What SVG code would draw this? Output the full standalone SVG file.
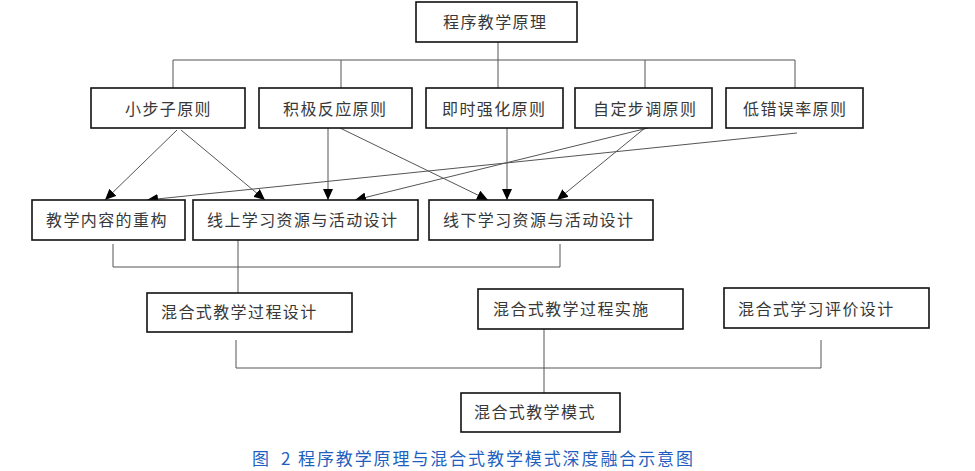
<svg xmlns="http://www.w3.org/2000/svg" width="975" height="471" viewBox="0 0 975 471">
<defs>
<style>
.box{fill:#fff;stroke:#111;stroke-width:1.6}
.t{font-family:"Noto Sans CJK SC","Noto Sans CJK JP",sans-serif;font-size:16px;letter-spacing:1.4px;fill:#383838}
.c{fill:none;stroke:#555;stroke-width:1}
.cap{font-family:"Noto Sans CJK SC",sans-serif;font-size:17px;fill:#1f5fbf}
</style>
<marker id="arr" markerUnits="userSpaceOnUse" markerWidth="12" markerHeight="10" refX="11" refY="5" orient="auto">
<path d="M0,0 L11,5 L0,10 Z" fill="#000"/>
</marker>
</defs>
<g id="connectors">
<path class="c" d="M498,42 V89"/>
<path class="c" d="M173,88 V60 H795 V88 M341,60 V88 M645,60 V88"/>
<line class="c" x1="177" y1="130" x2="105" y2="200" marker-end="url(#arr)"/>
<line class="c" x1="181" y1="130" x2="265" y2="200" marker-end="url(#arr)"/>
<line class="c" x1="328" y1="128" x2="328" y2="200" marker-end="url(#arr)"/>
<line class="c" x1="340" y1="128" x2="488" y2="200" marker-end="url(#arr)"/>
<line class="c" x1="507" y1="128" x2="507" y2="200" marker-end="url(#arr)"/>
<line class="c" x1="648" y1="128" x2="355" y2="200" marker-end="url(#arr)"/>
<line class="c" x1="645" y1="128" x2="557" y2="200" marker-end="url(#arr)"/>
<line class="c" x1="797" y1="133" x2="147" y2="200" marker-end="url(#arr)"/>
<path class="c" d="M113,244 V267 H560 V244"/>
<path class="c" d="M238,240 V293"/>
<path class="c" d="M236,340 V368 H821 V340"/>
<path class="c" d="M544,329 V393"/>
</g>
<g id="n0"><rect class="box" x="416" y="2" width="161" height="40"/><text class="t" x="443" y="28">程序教学原理</text></g>
<g id="n1"><rect class="box" x="91" y="88" width="154" height="40"/><text class="t" x="125" y="115">小步子原则</text></g>
<g id="n2"><rect class="box" x="259" y="88" width="153" height="40"/><text class="t" x="283" y="115">积极反应原则</text></g>
<g id="n3"><rect class="box" x="426" y="88" width="137" height="40"/><text class="t" x="442" y="115">即时强化原则</text></g>
<g id="n4"><rect class="box" x="575" y="88" width="137" height="40"/><text class="t" x="593" y="115">自定步调原则</text></g>
<g id="n5"><rect class="box" x="726" y="88" width="137" height="40"/><text class="t" x="743" y="115">低错误率原则</text></g>
<g id="n6"><rect class="box" x="32" y="200" width="153" height="40"/><text class="t" x="46" y="226">教学内容的重构</text></g>
<g id="n7"><rect class="box" x="193" y="200" width="225" height="40"/><text class="t" x="207" y="226">线上学习资源与活动设计</text></g>
<g id="n8"><rect class="box" x="429" y="200" width="224" height="40"/><text class="t" x="443" y="226">线下学习资源与活动设计</text></g>
<g id="n9"><rect class="box" x="147" y="293" width="205" height="39"/><text class="t" x="161" y="318">混合式教学过程设计</text></g>
<g id="n10"><rect class="box" x="478" y="289" width="205" height="40"/><text class="t" x="493" y="315">混合式教学过程实施</text></g>
<g id="n11"><rect class="box" x="724" y="288" width="205" height="40"/><text class="t" x="738" y="315">混合式学习评价设计</text></g>
<g id="n12"><rect class="box" x="461" y="393" width="159" height="39"/><text class="t" x="474" y="418">混合式教学模式</text></g>
<g id="caption"><text class="cap" y="465"><tspan x="252">图</tspan><tspan x="281">2</tspan><tspan x="298" textLength="395" lengthAdjust="spacing">程序教学原理与混合式教学模式深度融合示意图</tspan></text></g>
</svg>
